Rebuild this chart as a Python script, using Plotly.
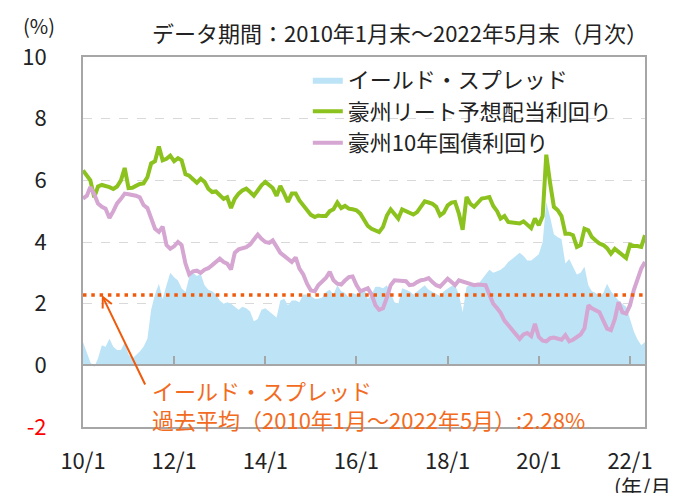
import pandas as pd
import plotly.graph_objects as go

# ---------------- data (monthly, 2010/01 - 2022/05) ----------------
months = pd.date_range("2010-01-01", periods=149, freq="MS")

reit_yield = [
    6.32, 6.15, 6.00, 5.45, 5.80, 5.85, 5.82, 5.78, 5.72, 5.80, 6.00, 6.40,
    5.75, 5.76, 5.82, 5.88, 5.90, 6.10, 6.55, 6.62, 7.10, 6.65, 6.70, 6.80,
    6.62, 6.72, 6.65, 6.20, 6.15, 6.05, 5.92, 6.05, 5.95, 5.73, 5.62, 5.64,
    5.53, 5.40, 5.45, 5.10, 5.40, 5.57, 5.67, 5.73, 5.62, 5.50, 5.67, 5.84,
    5.95, 5.84, 5.75, 5.50, 5.82, 5.57, 5.30, 5.57, 5.57, 5.35, 5.19, 5.03,
    4.88, 4.81, 4.86, 4.84, 4.84, 5.00, 5.06, 5.28, 5.10, 5.17, 5.08, 5.06,
    5.03, 4.92, 4.70, 4.52, 4.43, 4.38, 4.32, 4.49, 4.86, 5.06, 4.92, 4.76,
    5.06, 5.00, 4.97, 4.89, 4.97, 5.14, 5.32, 5.28, 5.24, 5.14, 4.86, 4.95,
    5.19, 5.28, 5.30, 4.92, 4.40, 5.46, 5.24, 5.14, 5.28, 5.41, 5.43, 5.46,
    5.17, 5.00, 4.76, 4.84, 4.65, 4.63, 4.63, 4.60, 4.67, 4.56, 4.45, 4.76,
    4.54, 4.84, 6.83, 5.90, 5.14, 5.03, 4.84, 4.27, 4.27, 4.22, 3.84, 3.90,
    4.43, 4.38, 4.16, 4.05, 3.95, 3.90, 3.80, 3.62, 3.78, 3.68, 3.58, 3.48,
    3.91, 3.87, 3.87, 3.84, 4.22,
]

bond_yield = [
    5.41, 5.50, 5.78, 5.55, 5.25, 5.14, 5.08, 4.78, 5.00, 5.25, 5.40, 5.57,
    5.55, 5.54, 5.50, 5.45, 5.20, 5.10, 4.80, 4.43, 4.33, 4.50, 3.90, 3.78,
    3.86, 4.00, 3.90, 3.30, 2.95, 3.05, 3.07, 3.00, 3.10, 3.15, 3.25, 3.35,
    3.46, 3.35, 3.30, 3.11, 3.65, 3.76, 3.81, 3.83, 3.92, 4.10, 4.24, 4.10,
    4.00, 3.97, 4.05, 3.85, 3.65, 3.55, 3.45, 3.35, 3.50, 3.14, 2.95, 2.65,
    2.43, 2.40, 2.60, 2.70, 2.83, 3.03, 2.76, 2.65, 2.62, 2.75, 2.86, 2.88,
    2.60, 2.40, 2.46, 2.50, 2.30, 1.95, 1.80, 1.85, 2.20, 2.60, 2.76, 2.76,
    2.76, 2.73, 2.60, 2.62, 2.70, 2.76, 2.78, 2.83, 2.70, 2.60, 2.55, 2.70,
    2.81, 2.70, 2.60, 2.76, 2.72, 2.70, 2.65, 2.60, 2.62, 2.62, 2.60, 2.30,
    2.00, 1.85, 1.70, 1.45, 1.30, 1.15, 1.00, 0.86, 1.00, 1.05, 0.95, 1.35,
    0.92, 0.80, 0.78, 0.88, 0.90, 0.86, 0.83, 0.98, 0.78, 0.83, 0.90, 1.00,
    1.20, 1.95, 1.85, 1.80, 1.72, 1.45, 1.19, 1.14, 1.50, 2.05, 1.72, 1.68,
    1.95, 2.45, 2.80, 3.14, 3.35,
]

spread = [
    0.76, 0.40, 0.10, -0.05, 0.22, 0.65, 0.60, 0.86, 0.60, 0.50, 0.50, 0.75,
    0.35, 0.22, 0.32, 0.45, 0.60, 0.86, 1.80, 2.30, 2.65, 2.15, 2.60, 3.00,
    2.86, 2.75, 2.50, 2.38, 2.86, 3.00, 2.90, 2.97, 2.60, 2.45, 2.40, 2.30,
    2.10, 2.00, 2.05, 2.00, 1.90, 1.80, 1.90, 1.85, 1.75, 1.43, 1.50, 1.80,
    1.85, 1.75, 1.65, 1.55, 2.10, 2.16, 1.95, 2.10, 2.10, 2.05, 2.30, 2.30,
    2.25, 2.16, 2.16, 2.20, 2.38, 2.45, 2.30, 2.60, 2.40, 2.35, 2.20, 2.35,
    2.30, 2.40, 2.50, 2.15, 2.30, 2.55, 2.55, 2.50, 2.60, 2.35, 2.05, 2.00,
    2.50, 2.45, 2.40, 2.30, 2.40, 2.50, 2.60, 2.45, 2.38, 2.30, 2.25, 2.40,
    2.50, 2.57, 2.60, 2.30, 1.73, 2.55, 2.60, 2.65, 2.62, 2.80, 2.95, 3.10,
    3.00, 3.05, 3.10, 3.20, 3.35, 3.45, 3.55, 3.65, 3.55, 3.40, 3.40, 3.50,
    3.60, 4.00, 5.30, 4.80, 4.25, 4.15, 4.10, 3.30, 3.45, 3.20, 2.95, 3.00,
    3.20, 2.60, 2.40, 2.35, 2.25, 2.35, 2.65, 2.40, 2.25, 2.10, 2.00, 1.90,
    1.50, 1.10, 0.85, 0.65, 0.76,
]

AVG = 2.28

tick_dates = ["2010-01-01", "2012-01-01", "2014-01-01", "2016-01-01",
              "2018-01-01", "2020-01-01", "2022-01-01"]
tick_labels = ["10/1", "12/1", "14/1", "16/1", "18/1", "20/1", "22/1"]
y_ticks = [-2, 0, 2, 4, 6, 8, 10]
y_labels = ['<span style="color:#ff0000">-2</span>', "0", "2", "4", "6", "8", "10"]

names = ["イールド・スプレッド", "豪州リート予想配当利回り", "豪州10年国債利回り"]

# ---------------- style ----------------
FONT = "Noto Sans CJK JP"
FS = 22
BLUE = "#bde3f7"
GREEN = "#8cc21e"
PINK = "#d5a6d2"
ORANGE = "#f26b21"
DOT = "#ef5b0c"
AXIS = "#a6a6a6"
TEXT = "#222222"

fig = go.Figure()
fig.add_trace(go.Scatter(x=months, y=spread, name=names[0], mode="lines",
                         fill="tozeroy", fillcolor=BLUE,
                         line=dict(width=0, color=BLUE), legendgroup="a"))
fig.add_trace(go.Scatter(x=months, y=reit_yield, name=names[1], mode="lines",
                         line=dict(width=4, color=GREEN), legendgroup="b"))
fig.add_trace(go.Scatter(x=months, y=bond_yield, name=names[2], mode="lines",
                         line=dict(width=4, color=PINK), legendgroup="c"))
fig.add_trace(go.Scatter(x=[months[0], months[-1]], y=[AVG, AVG], mode="lines",
                         xaxis="x2", showlegend=False, hoverinfo="skip",
                         line=dict(width=3.5, color=DOT, dash="3.5px,4.8px")))

fig.update_layout(
    width=678, height=493,
    margin=dict(l=75, r=41, t=49, b=74),
    paper_bgcolor="white", plot_bgcolor="white",
    font=dict(family=FONT, size=FS, color=TEXT),
    xaxis=dict(type="date", range=[months[0], months[-1]],
               tickvals=tick_dates, ticktext=tick_labels,
               showgrid=False, zeroline=False,
               showline=True, mirror=True, linecolor=AXIS, linewidth=2,
               ticks="", ticklabelstandoff=14,
               tickfont=dict(size=FS, color=TEXT)),
    xaxis2=dict(overlaying="x", matches="x", anchor="free", position=1 / 6,
                showline=True, linecolor=AXIS, linewidth=2,
                ticks="inside", ticklen=8, tickwidth=1.5, tickcolor=AXIS,
                tickvals=tick_dates, showticklabels=False,
                showgrid=False, zeroline=False),
    yaxis=dict(range=[-2, 10], tickvals=y_ticks, ticktext=y_labels,
               showgrid=True, gridcolor="#d9d9d9", griddash="dash", gridwidth=1,
               zeroline=False, showline=True, mirror=True,
               linecolor=AXIS, linewidth=2, ticks="", ticklabelstandoff=30,
               tickfont=dict(size=FS, color=TEXT)),
    legend=dict(x=0.40, y=0.995, xanchor="left", yanchor="top",
                bgcolor="rgba(0,0,0,0)", font=dict(size=FS, color=TEXT),
                tracegroupgap=2, traceorder="normal"),
    showlegend=True,
)

annotations = [
    dict(text="データ期間：2010年1月末～2022年5月末（月次）",
         xref="paper", yref="paper", x=(142 - 75) / 562, y=(419 - 24) / 370,
         xanchor="left", yanchor="middle", showarrow=False,
         font=dict(size=FS, color=TEXT)),
    dict(text="(%)", xref="paper", yref="paper",
         x=(31 - 75) / 562, y=(419 - 17) / 370,
         xanchor="center", yanchor="middle", showarrow=False,
         font=dict(size=20, color=TEXT)),
    dict(text="(年/月)", xref="paper", yref="paper",
         x=(638 - 75) / 562, y=(419 - 478) / 370,
         xanchor="center", yanchor="middle", showarrow=False,
         font=dict(size=21, color=TEXT)),
    dict(text="アセットマネジメント作成", xref="paper", yref="paper",
         x=(122 - 75) / 562, y=(419 - 483) / 370,
         xanchor="right", yanchor="top", showarrow=False,
         font=dict(size=FS, color=TEXT)),
    dict(text="", x=months[5], y=AVG, xref="x", yref="y",
         showarrow=True, ax=44, ay=91, arrowhead=5, arrowsize=1,
         arrowwidth=2, arrowcolor=DOT, standoff=0),
    dict(text=f"イールド・スプレッド<br>過去平均（2010年1月～2022年5月）:{AVG:.2f}%",
         xref="paper", yref="paper", x=(142 - 75) / 562, y=(419 - 364) / 370,
         xanchor="left", yanchor="top", align="left", showarrow=False,
         font=dict(size=FS, color=ORANGE)),
]
fig.update_layout(annotations=annotations)

fig.write_html("out.html")
